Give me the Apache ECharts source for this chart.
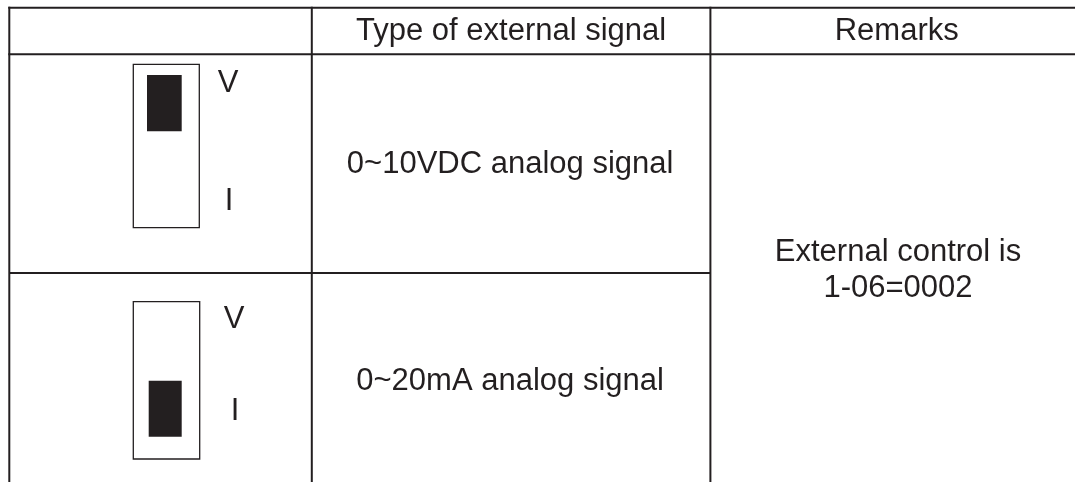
<!DOCTYPE html>
<html>
<head>
<meta charset="utf-8">
<script src="https://cdn.jsdelivr.net/npm/echarts@6/dist/echarts.min.js"></script>
<style>
html, body { margin: 0; padding: 0; background: #fff; }
#main { width: 1075px; height: 482px; }
</style>
</head>
<body>
<div id="main"></div>
<script>
// table content
const headers = ['', 'Type of external signal', 'Remarks'];
const signalTypes = ['0~10VDC analog signal', '0~20mA analog signal'];
const switchPositions = ['V', 'I'];       // where the black slider sits, per row
const switchLabels = ['V', 'I'];
const remarks = ['External control is', '1-06=0002'];

// layout
const ink = '#231f20';
const font = '"Liberation Sans", Arial, Helvetica, sans-serif';
const fontSize = 31;
const colX = [9.3, 311.8, 710.4, 1083];
const rowY = [7.7, 54.3, 273, 487];
const bottom = 482;

// switch boxes measured per row
const switchBox = [
    { x: 133.3, y: 64.3, w: 66, h: 163.4, knobX: 147, knobW: 34.7, knobH: 56.3, gap: 10.7, vY: 83, iY: 201.5, labelX: 228 },
    { x: 133.3, y: 301.7, w: 66.4, h: 157.3, knobX: 148.7, knobW: 33, knobH: 56, gap: 22.3, vY: 319, iY: 411, labelX: 234 }
];

function text(str, x, y) {
    return {
        type: 'text',
        x: x, y: y,
        style: {
            text: str,
            fill: ink,
            font: fontSize + 'px ' + font,
            align: 'center',
            verticalAlign: 'middle'
        }
    };
}

function line(x1, y1, x2, y2, w) {
    return {
        type: 'line',
        shape: { x1: x1, y1: y1, x2: x2, y2: y2 },
        style: { stroke: ink, lineWidth: w }
    };
}

let elements = [];

// grid lines
elements.push(line(colX[0] - 1, rowY[0], 1075, rowY[0], 2));
elements.push(line(colX[0] - 1, rowY[1], 1075, rowY[1], 2));
elements.push(line(colX[0], rowY[2], colX[2], rowY[2], 2));
for (let i = 0; i < 3; i++) {
    elements.push(line(colX[i], rowY[0] - 1, colX[i], bottom, 2));
}

// header texts
for (let i = 1; i < headers.length; i++) {
    elements.push(text(headers[i], (colX[i] + colX[i + 1]) / 2, 31.5));
}

// rows
signalTypes.forEach(function (s, r) {
    const mid = (rowY[r + 1] + rowY[r + 2]) / 2;
    elements.push(text(s, (colX[1] + colX[2]) / 2 - 1, mid + 1));

    const b = switchBox[r];
    elements.push({
        type: 'rect',
        shape: { x: b.x, y: b.y, width: b.w, height: b.h },
        style: { fill: '#fff', stroke: ink, lineWidth: 1.3 }
    });
    // slider sits at top for V, at bottom for I
    let ky = switchPositions[r] === 'V' ? b.y + b.gap : b.y + b.h - b.gap - b.knobH;
    elements.push({
        type: 'rect',
        shape: { x: b.knobX, y: ky, width: b.knobW, height: b.knobH },
        style: { fill: ink }
    });
    elements.push(text(switchLabels[0], b.labelX, b.vY));
    elements.push(text(switchLabels[1], b.labelX + 1, b.iY));
});

// remarks cell
const remX = 898;
remarks.forEach(function (s, i) {
    elements.push(text(s, remX, 252 + i * 36));
});

const chart = echarts.init(document.getElementById('main'), null, { renderer: 'canvas' });
chart.setOption({
    backgroundColor: '#fff',
    animation: false,
    graphic: { elements: elements }
});
</script>
</body>
</html>
